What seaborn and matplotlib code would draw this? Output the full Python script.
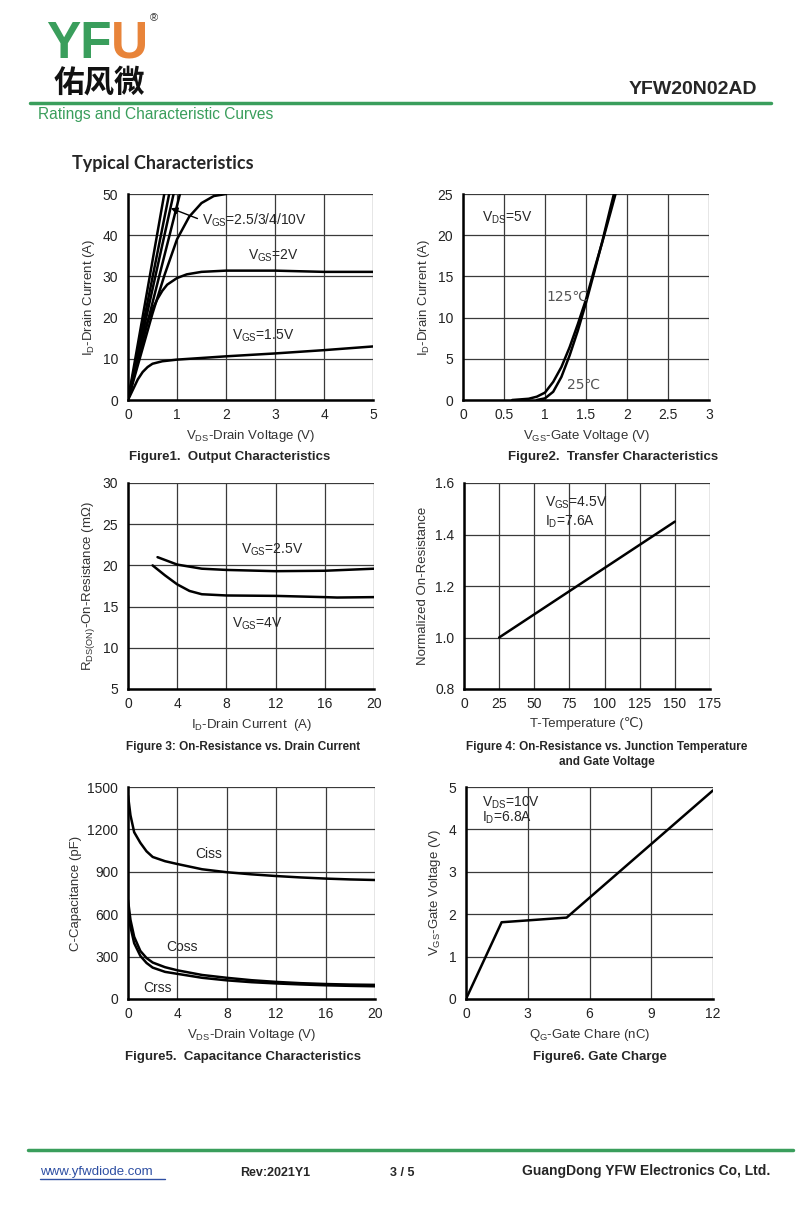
import numpy as np
import pandas as pd
import matplotlib
matplotlib.use("Agg")
import matplotlib.pyplot as plt
import seaborn as sns

# Figure 1 - output characteristics
f1_vds_15 = [0, 0.1, 0.2, 0.3, 0.4, 0.5, 0.7, 1.0, 1.5, 2, 3, 4, 5]
f1_id_15 = [0, 2.5, 5.0, 6.8, 8.0, 8.8, 9.4, 9.8, 10.2, 10.6, 11.3, 12.1, 13.0]
f1_vds_2 = [0, 0.1, 0.2, 0.3, 0.4, 0.5, 0.6, 0.7, 0.8, 1.0, 1.2, 1.5, 2, 3, 4, 5]
f1_id_2 = [0, 5, 10, 15, 19, 22, 24.5, 26.5, 28, 29.6, 30.5, 31.1, 31.4, 31.4, 31.1, 31.1]
f1_vds_25 = [0, 0.25, 0.5, 0.75, 1.0, 1.25, 1.5, 1.75, 2.0]
f1_id_25 = [0, 10.5, 21, 30.5, 39, 44.5, 47.8, 49.5, 50]
f1_vds_high = [0.74, 0.84, 0.93, 1.06]   # where the 3/4/10V lines reach 50 A
# Figure 2 - transfer characteristics
f2_vgs_125 = [0.6, 0.8, 0.9, 1.0, 1.1, 1.2, 1.3, 1.4, 1.5, 1.6, 1.7, 1.8, 1.86]
f2_id_125 = [0, 0.15, 0.4, 0.9, 2.2, 4.0, 6.4, 9.2, 12.2, 15.8, 19.2, 22.8, 25]
f2_vgs_25 = [0.9, 1.0, 1.1, 1.2, 1.3, 1.4, 1.5, 1.6, 1.7, 1.8, 1.84]
f2_id_25 = [0, 0.2, 1.0, 2.8, 5.4, 8.4, 11.8, 15.5, 19.3, 23.4, 25]
# Figure 3 - on-resistance vs drain current
f3_id_25 = [2.4, 4, 6, 8, 12, 16, 20]
f3_r_25 = [21.0, 20.1, 19.6, 19.45, 19.3, 19.35, 19.6]
f3_id_4 = [2.0, 3, 4, 5, 6, 8, 12, 16, 17, 20]
f3_r_4 = [20.0, 18.8, 17.7, 16.9, 16.5, 16.35, 16.3, 16.15, 16.1, 16.15]
# Figure 4 - normalized on-resistance vs temperature
f4_temp = [25, 150]
f4_rn = [1.0, 1.45]
# Figure 5 - capacitance
f5_vds = [0, 0.2, 0.5, 1, 1.5, 2, 3, 4, 6, 8, 10, 12, 14, 16, 18, 20]
f5_ciss = [1440, 1300, 1180, 1105, 1045, 1005, 975, 955, 918, 897, 882, 870, 860, 852, 846, 842]
f5_coss = [700, 560, 440, 340, 290, 258, 225, 203, 170, 150, 133, 121, 112, 106, 102, 100]
f5_crss = [640, 510, 395, 305, 255, 222, 192, 178, 150, 132, 119, 110, 103, 97, 93, 90]
# Figure 6 - gate charge
f6_qg = [0, 1.73, 4.89, 12]
f6_vgs = [0, 1.81, 1.92, 4.92]

sns.set_style("white")
plt.rcParams["font.family"] = ["Liberation Sans", "DejaVu Sans"]
plt.rcParams["mathtext.default"] = "regular"

GREEN = "#3a9e5c"
NARROW = ["Liberation Sans Narrow", "Liberation Sans", "DejaVu Sans"]

fig = plt.figure(figsize=(8, 12.16), dpi=100)


def px(x, y):
    return x / 800, 1 - y / 1216


def make_ax(l, t, r, b, xlim, ylim, xticks, yticks, xlabel, ylabel, xtl=None, ytl=None):
    ax = fig.add_axes([l / 800, 1 - b / 1216, (r - l) / 800, (b - t) / 1216])
    ax.set_xlim(xlim)
    ax.set_ylim(ylim)
    ax.set_xticks(xticks)
    ax.set_yticks(yticks)
    if xtl is not None:
        ax.set_xticklabels(xtl)
    if ytl is not None:
        ax.set_yticklabels(ytl)
    ax.grid(True, color="#3a3a3a", lw=0.9)
    for s in ["top", "right"]:
        ax.spines[s].set_visible(False)
    for s in ["left", "bottom"]:
        ax.spines[s].set_color("black")
        ax.spines[s].set_linewidth(1.8)
    ax.tick_params(length=0, labelsize=10, colors="#222222")
    ax.tick_params(axis="x", pad=6)
    ax.tick_params(axis="y", pad=7)
    ax.set_xlabel(xlabel, fontsize=9.5, color="#333333", labelpad=4)
    ax.set_ylabel(ylabel, fontsize=9.5, color="#333333", labelpad=4)
    return ax


def curve(ax, x, y):
    sns.lineplot(x=x, y=y, ax=ax, color="black", lw=1.8, sort=False,
                 estimator=None, legend=False)


# header
fig.text(*px(46, 44), "YF", color=GREEN, fontsize=37, fontweight="heavy", va="center", ha="left")
fig.text(*px(111, 44), "U", color="#e8843a", fontsize=37, fontweight="heavy", va="center", ha="left")
fig.text(*px(154, 18), "®", color="#333333", fontsize=8, va="center", ha="center")
fig.text(*px(54, 83), "佑风微", fontsize=22, fontweight="bold", va="center", ha="left",
         family=["Noto Sans CJK SC", "DejaVu Sans"], color="#111111")
fig.add_artist(plt.Line2D([30 / 800, 771 / 800], [1 - 103 / 1216] * 2, color=GREEN, lw=2.5))
fig.text(*px(38, 114), "Ratings and Characteristic Curves", color=GREEN, fontsize=11.2,
         va="center", ha="left")
fig.text(*px(757, 90), "YFW20N02AD", fontsize=14, fontweight="bold", va="center", ha="right")
fig.text(*px(72, 163), "Typical Characteristics", fontsize=13, fontweight="bold",
         va="center", ha="left", family=["Lato", "DejaVu Sans"])

# Figure 1
ax1 = make_ax(128, 194, 373, 400, (0, 5), (0, 50), range(0, 6), range(0, 51, 10),
              r"V$_{DS}$-Drain Voltage (V)", r"I$_{D}$-Drain Current (A)")
curve(ax1, f1_vds_15, f1_id_15)
curve(ax1, f1_vds_2, f1_id_2)
curve(ax1, f1_vds_25, f1_id_25)
for v in f1_vds_high:
    curve(ax1, [0, v * 1.1], [0, 55])
ax1.annotate("", xy=(0.82, 46.8), xytext=(1.47, 43.8),
             arrowprops=dict(arrowstyle="-|>", color="black", lw=1.0, mutation_scale=10))
ax1.text(1.5, 43.5, r"V$_{GS}$=2.5/3/4/10V", fontsize=10, va="center", ha="left")
ax1.text(2.96, 35, r"V$_{GS}$=2V", fontsize=10, va="center", ha="center")
ax1.text(2.75, 15.5, r"V$_{GS}$=1.5V", fontsize=10, va="center", ha="center")
fig.text(*px(230, 457), "Figure1.  Output Characteristics", fontsize=9.5, fontweight="bold",
         ha="center", va="center", family=NARROW)

# Figure 2
ax2 = make_ax(463, 194, 709, 400, (0, 3), (0, 25), [0, 0.5, 1, 1.5, 2, 2.5, 3], range(0, 26, 5),
              r"V$_{GS}$-Gate Voltage (V)", r"I$_{D}$-Drain Current (A)",
              xtl=["0", "0.5", "1", "1.5", "2", "2.5", "3"])
curve(ax2, f2_vgs_125, f2_id_125)
curve(ax2, f2_vgs_25, f2_id_25)
ax2.text(0.23, 22.1, r"V$_{DS}$=5V", fontsize=10, va="center", ha="left")
ax2.text(1.02, 12.5, "125℃", fontsize=10, va="center", ha="left", color="#555555",
         family=["DejaVu Sans"])
ax2.text(1.27, 1.8, "25℃", fontsize=10, va="center", ha="left", color="#555555",
         family=["DejaVu Sans"])
fig.text(*px(613, 457), "Figure2.  Transfer Characteristics", fontsize=9.5, fontweight="bold",
         ha="center", va="center", family=NARROW)

# Figure 3
ax3 = make_ax(128, 483, 374, 689, (0, 20), (5, 30), range(0, 21, 4), range(5, 31, 5),
              r"I$_{D}$-Drain Current  (A)", r"R$_{DS(ON)}$-On-Resistance (mΩ)")
curve(ax3, f3_id_25, f3_r_25)
curve(ax3, f3_id_4, f3_r_4)
ax3.text(11.7, 21.9, r"V$_{GS}$=2.5V", fontsize=10, va="center", ha="center")
ax3.text(10.5, 12.9, r"V$_{GS}$=4V", fontsize=10, va="center", ha="center")
fig.text(*px(243, 747), "Figure 3: On-Resistance vs. Drain Current", fontsize=8.5,
         fontweight="bold", ha="center", va="center", family=NARROW)

# Figure 4
ax4 = make_ax(464, 483, 710, 689, (0, 175), (0.8, 1.6), range(0, 176, 25),
              [0.8, 1.0, 1.2, 1.4, 1.6], "T-Temperature (℃)", "Normalized On-Resistance",
              ytl=["0.8", "1.0", "1.2", "1.4", "1.6"])
curve(ax4, f4_temp, f4_rn)
ax4.text(57.6, 1.522, r"V$_{GS}$=4.5V", fontsize=10, va="center", ha="left")
ax4.text(57.6, 1.449, r"I$_{D}$=7.6A", fontsize=10, va="center", ha="left")
fig.text(*px(607, 747), "Figure 4: On-Resistance vs. Junction Temperature", fontsize=8.5,
         fontweight="bold", ha="center", va="center", family=NARROW)
fig.text(*px(607, 762), "and Gate Voltage", fontsize=8.5,
         fontweight="bold", ha="center", va="center", family=NARROW)

# Figure 5
ax5 = make_ax(128, 787, 375, 999, (0, 20), (0, 1500), range(0, 21, 4), range(0, 1501, 300),
              r"V$_{DS}$-Drain Voltage (V)", "C-Capacitance (pF)")
curve(ax5, f5_vds, f5_ciss)
curve(ax5, f5_vds, f5_coss)
curve(ax5, f5_vds, f5_crss)
ax5.text(6.5, 1026, "Ciss", fontsize=10, va="center", ha="center")
ax5.text(4.4, 368, "Coss", fontsize=10, va="center", ha="center")
ax5.text(2.35, 78, "Crss", fontsize=10, va="center", ha="center")
fig.text(*px(243, 1057), "Figure5.  Capacitance Characteristics", fontsize=9.5,
         fontweight="bold", ha="center", va="center", family=NARROW)

# Figure 6
ax6 = make_ax(466, 787, 713, 999, (0, 12), (0, 5), range(0, 13, 3), range(0, 6),
              r"Q$_{G}$-Gate Chare (nC)", r"V$_{GS}$-Gate Voltage (V)")
curve(ax6, f6_qg, f6_vgs)
ax6.text(0.78, 4.62, r"V$_{DS}$=10V", fontsize=10, va="center", ha="left")
ax6.text(0.78, 4.27, r"I$_{D}$=6.8A", fontsize=10, va="center", ha="left")
fig.text(*px(600, 1057), "Figure6. Gate Charge", fontsize=9.5,
         fontweight="bold", ha="center", va="center", family=NARROW)

# footer
fig.add_artist(plt.Line2D([28 / 800, 793 / 800], [1 - 1150 / 1216] * 2, color=GREEN, lw=2.5))
fig.text(*px(40, 1172), "www.yfwdiode.com", fontsize=9.5, color="#2e4fa3",
         ha="left", va="center", family=NARROW)
fig.add_artist(plt.Line2D([40 / 800, 165 / 800], [1 - 1179 / 1216] * 2, color="#2e4fa3", lw=1))
fig.text(*px(240, 1173), "Rev:2021Y1", fontsize=9, fontweight="bold", ha="left", va="center",
         family=NARROW)
fig.text(*px(390, 1173), "3 / 5", fontsize=9, fontweight="bold", ha="left", va="center",
         family=NARROW)
fig.text(*px(770, 1171), "GuangDong YFW Electronics Co, Ltd.", fontsize=10, fontweight="bold",
         ha="right", va="center", family=NARROW)

fig.savefig("out.png", dpi=100)
